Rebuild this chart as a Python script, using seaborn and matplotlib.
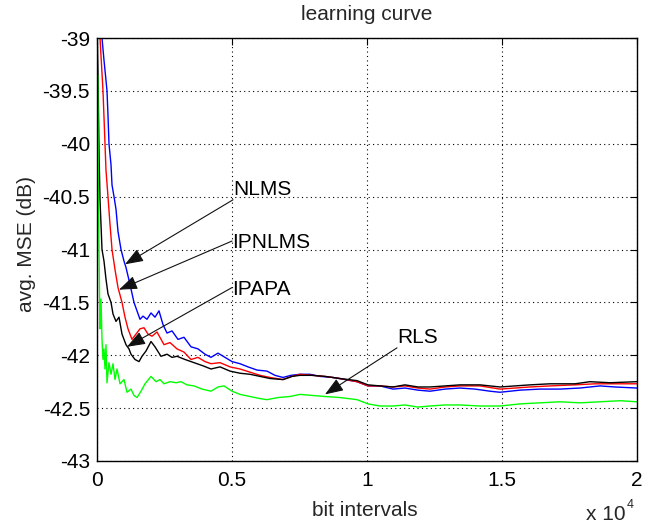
import matplotlib
matplotlib.use("Agg")
import matplotlib.pyplot as plt
import numpy as np
import pandas as pd
import seaborn as sns

# Averaged learning curves (MSE in dB) against bit intervals
nlms_x = [111, 185, 259, 333, 370, 407, 444, 519, 556, 630, 704, 778, 889, 1000, 1074, 1222,
          1370, 1481, 1593, 1704, 1852, 2000, 2148, 2296, 2444, 2593, 2778, 3000, 3222, 3481,
          3741, 4000, 4222, 4481, 4741, 5000, 5296, 5593, 5926, 6296, 6593, 6889, 7185, 7519,
          7889, 8259, 8741, 9185, 9630, 10037, 10481, 10963, 11407, 11889, 12333, 12889,
          13444, 14000, 14556, 14926, 15296, 15667, 16407, 17148, 17889, 18630, 19185, 20000]
nlms_y = [-38.83, -39.00, -39.21, -39.40, -39.50, -39.73, -40.00, -40.20, -40.39, -40.50,
          -40.62, -40.83, -41.00, -41.11, -41.17, -41.33, -41.50, -41.58, -41.66, -41.63,
          -41.66, -41.60, -41.64, -41.58, -41.71, -41.79, -41.77, -41.85, -41.83, -41.92,
          -41.94, -41.99, -42.02, -41.98, -42.02, -42.06, -42.08, -42.11, -42.14, -42.15,
          -42.19, -42.21, -42.19, -42.18, -42.18, -42.20, -42.21, -42.23, -42.25, -42.29,
          -42.29, -42.32, -42.31, -42.33, -42.34, -42.32, -42.31, -42.32, -42.34, -42.35,
          -42.34, -42.33, -42.32, -42.32, -42.31, -42.29, -42.30, -42.31]

ipnlms_x = [37, 111, 222, 296, 333, 407, 481, 556, 667, 778, 926, 1037, 1148, 1296, 1444,
            1593, 1741, 1889, 2037, 2222, 2481, 2704, 2963, 3222, 3481, 3741, 4000, 4222,
            4556, 4926, 5296, 5667, 6037, 6407, 6889, 7222, 7519, 7963, 8444, 9000, 9630,
            10037, 10481, 10963, 11407, 11889, 12333, 12889, 13444, 14185, 14926, 15481,
            16037, 16778, 17704, 18444, 19185, 20000]
ipnlms_y = [-38.83, -39.00, -39.50, -40.00, -40.25, -40.50, -40.76, -41.00, -41.19, -41.36,
            -41.50, -41.64, -41.75, -41.85, -41.80, -41.75, -41.74, -41.80, -41.82, -41.78,
            -41.90, -41.88, -41.94, -41.97, -42.04, -42.02, -42.06, -42.08, -42.07, -42.11,
            -42.13, -42.16, -42.19, -42.21, -42.23, -42.20, -42.18, -42.19, -42.20, -42.22,
            -42.25, -42.29, -42.29, -42.30, -42.29, -42.31, -42.32, -42.30, -42.29, -42.29,
            -42.32, -42.31, -42.30, -42.29, -42.28, -42.27, -42.27, -42.27]

ipapa_x = [0, 37, 74, 111, 148, 185, 259, 333, 407, 519, 593, 704, 815, 926, 1074, 1185,
           1259, 1407, 1556, 1667, 1815, 2000, 2148, 2370, 2593, 2778, 2963, 3259, 3593,
           3926, 4222, 4556, 4926, 5296, 5667, 6037, 6407, 6889, 7222, 7519, 7963, 8444,
           9000, 9630, 10037, 10481, 10963, 11407, 11889, 12333, 12889, 13444, 14185,
           14926, 15481, 16037, 16778, 17704, 18259, 19000, 20000]
ipapa_y = [-38.83, -39.35, -40.06, -40.53, -40.76, -41.00, -41.11, -41.28, -41.42, -41.50,
           -41.61, -41.68, -41.64, -41.80, -41.90, -41.94, -41.99, -42.04, -42.06, -42.01,
           -41.96, -41.87, -41.92, -42.01, -41.99, -42.02, -42.01, -42.04, -42.07, -42.10,
           -42.13, -42.11, -42.15, -42.17, -42.18, -42.20, -42.22, -42.23, -42.20, -42.19,
           -42.19, -42.20, -42.22, -42.24, -42.28, -42.29, -42.30, -42.28, -42.30, -42.30,
           -42.29, -42.28, -42.28, -42.30, -42.29, -42.28, -42.27, -42.27, -42.25, -42.26,
           -42.25]

rls_x = [0, 20, 37, 74, 111, 148, 185, 222, 259, 296, 333, 370, 444, 519, 593, 667, 741,
         852, 1000, 1111, 1259, 1370, 1481, 1630, 1778, 2000, 2185, 2333, 2481, 2704, 2926,
         3111, 3333, 3593, 3889, 4222, 4481, 4704, 5000, 5296, 5667, 6037, 6296, 6704,
         7148, 7519, 7963, 8444, 9000, 9630, 10037, 10481, 10963, 11407, 11889, 12333,
         12889, 13444, 14185, 14926, 15667, 16407, 17148, 17889, 18630, 19370, 20000]
rls_y = [-43.00, -39.35, -40.06, -41.00, -41.75, -41.47, -41.85, -42.04, -41.94, -42.13,
         -41.90, -42.26, -42.07, -42.18, -42.08, -42.23, -42.13, -42.27, -42.23, -42.35,
         -42.32, -42.38, -42.40, -42.34, -42.27, -42.20, -42.25, -42.23, -42.27, -42.25,
         -42.26, -42.25, -42.28, -42.29, -42.32, -42.34, -42.30, -42.29, -42.34, -42.37,
         -42.39, -42.41, -42.42, -42.40, -42.39, -42.37, -42.38, -42.39, -42.40, -42.42,
         -42.46, -42.48, -42.48, -42.47, -42.49, -42.48, -42.47, -42.47, -42.48, -42.48,
         -42.46, -42.45, -42.44, -42.45, -42.44, -42.43, -42.44]

algorithms = ["NLMS", "IPNLMS", "IPAPA", "RLS"]
colors = {"NLMS": "#0000ff", "IPNLMS": "#ff0000", "IPAPA": "#000000", "RLS": "#00ff00"}

x_ticks = [0, 5000, 10000, 15000, 20000]
x_tick_labels = ["0", "0.5", "1", "1.5", "2"]
y_ticks = [-43, -42.5, -42, -41.5, -41, -40.5, -40, -39.5, -39]
y_tick_labels = ["-43", "-42.5", "-42", "-41.5", "-41", "-40.5", "-40", "-39.5", "-39"]

frames = []
for name, xs, ys in zip(algorithms, [nlms_x, ipnlms_x, ipapa_x, rls_x],
                        [nlms_y, ipnlms_y, ipapa_y, rls_y]):
    frames.append(pd.DataFrame({"bits": xs, "mse": ys, "alg": name}))
df = pd.concat(frames, ignore_index=True)

sns.set_theme(style="white")
plt.rcParams["font.family"] = ["Liberation Sans", "DejaVu Sans"]
FS = 15

fig = plt.figure(figsize=(6.54, 5.23), dpi=100)
ax = fig.add_axes([97 / 654, 1 - 461 / 523, 540 / 654, 423 / 523])

sns.lineplot(data=df, x="bits", y="mse", hue="alg", hue_order=algorithms,
             palette=colors, estimator=None, sort=False, legend=False,
             linewidth=1.0, ax=ax)

ax.set_xlim(0, 20000)
ax.set_ylim(-43, -39)
ax.set_xticks(x_ticks)
ax.set_xticklabels(x_tick_labels)
ax.set_yticks(y_ticks)
ax.set_yticklabels(y_tick_labels)
ax.grid(True, linestyle=(0, (1, 3)), color="black", linewidth=0.8)
ax.tick_params(direction="in", length=5, width=0.8, top=True, right=True,
               labelsize=FS, colors="black")
ax.tick_params(axis="x", pad=7)
ax.tick_params(axis="y", pad=5)
for s in ax.spines.values():
    s.set_color("black")
    s.set_linewidth(1.0)

ax.set_xlabel("bit intervals", fontsize=FS)
ax.xaxis.set_label_coords((365 - 97) / 540, (461 - 510) / 423)
ax.xaxis.label.set_va("center")
ax.set_ylabel("avg. MSE (dB)", fontsize=FS)
ax.yaxis.set_label_coords((26 - 97) / 540, (461 - 244) / 423)
ax.yaxis.label.set_va("center")
ax.set_title("learning curve", fontsize=FS, y=(461 - 15) / 423, va="center", pad=0)

# Exponent of the x axis
fig.text(586 / 654, 1 - 514 / 523, "x 10", fontsize=FS, ha="left", va="center")
fig.text(627 / 654, 1 - 505 / 523, "4", fontsize=9, ha="left", va="center")

# Labelled arrows pointing at each curve
notes = [
    ("NLMS", (5037, -40.43), (5037, -40.53), (1037, -41.14)),
    ("IPNLMS", (5000, -40.93), (5000, -40.92), (815, -41.38)),
    ("IPAPA", (5000, -41.38), (5000, -41.36), (1111, -41.92)),
    ("RLS", (11111, -41.83), (11111, -41.93), (8444, -42.37)),
]
for label, text_xy, tail, tip in notes:
    ax.annotate("", xy=tip, xytext=tail,
                arrowprops=dict(arrowstyle="-|>,head_length=0.8,head_width=0.3",
                                color="#111111", lw=0.8, mutation_scale=14,
                                shrinkA=0, shrinkB=0))
    ax.text(text_xy[0], text_xy[1], label, fontsize=FS, ha="left", va="center",
            color="black")

fig.savefig("out.png", dpi=100)
